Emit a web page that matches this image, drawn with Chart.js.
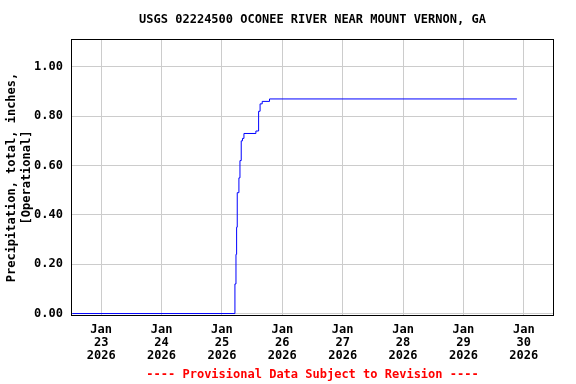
<!DOCTYPE html>
<html>
<head>
<meta charset="utf-8">
<script src="https://cdn.jsdelivr.net/npm/chart.js@4"></script>
<style>
  html, body { margin: 0; padding: 0; background: #ffffff; }
  #wrap { width: 576px; height: 384px; }
</style>
</head>
<body>
<div id="wrap"><canvas id="precipChart" width="576" height="384"></canvas></div>
<script>
const obsTimes = [
    '2026-01-22T12:30', '2026-01-25T05:10', '2026-01-25T05:35', '2026-01-25T05:50',
    '2026-01-25T06:05', '2026-01-25T06:45', '2026-01-25T07:10', '2026-01-25T07:40',
    '2026-01-25T08:10', '2026-01-25T08:45', '2026-01-25T13:30', '2026-01-25T14:35',
    '2026-01-25T15:10', '2026-01-25T16:00', '2026-01-25T18:55', '2026-01-29T21:15'
];
const precipValues = [
    0.00, 0.12, 0.24, 0.35,
    0.49, 0.55, 0.62, 0.70,
    0.71, 0.73, 0.74, 0.82,
    0.85, 0.86, 0.87, 0.87
];

// Axis ticks
const xTickDays = ['2026-01-23', '2026-01-24', '2026-01-25', '2026-01-26',
                   '2026-01-27', '2026-01-28', '2026-01-29', '2026-01-30'];
const monthNames = ['Jan', 'Feb', 'Mar', 'Apr', 'May', 'Jun', 'Jul', 'Aug', 'Sep', 'Oct', 'Nov', 'Dec'];
const yTickValues = [0.0, 0.2, 0.4, 0.6, 0.8, 1.0];
const xRange = ['2026-01-22T12:00', '2026-01-30T12:00'];

const toMs = (s) => new Date(s + (s.length === 10 ? 'T00:00' : '') + 'Z').getTime();

const points = obsTimes.map((t, i) => ({ x: toMs(t), y: precipValues[i] }));

const monoFont = "'DejaVu Sans Mono', 'Liberation Mono', monospace";

// black frame round the plot area
const frameBorder = {
    id: 'frameBorder',
    afterDatasetsDraw(chart) {
        const { ctx, chartArea } = chart;
        ctx.save();
        ctx.strokeStyle = '#000000';
        ctx.lineWidth = 1;
        ctx.strokeRect(Math.round(chartArea.left) + 0.5, Math.round(chartArea.top) + 0.5,
            Math.round(chartArea.right - chartArea.left) - 1, Math.round(chartArea.bottom - chartArea.top) - 1);
        ctx.restore();
    }
};

const ctx = document.getElementById('precipChart').getContext('2d');
new Chart(ctx, {
    type: 'line',
    data: {
        datasets: [{
            label: 'Precipitation',
            data: points,
            borderColor: '#0000ff',
            borderWidth: 1,
            pointRadius: 0,
            stepped: true,
            fill: false
        }]
    },
    options: {
        responsive: false,
        animation: false,
        layout: { padding: { left: 0, right: 22, top: 0, bottom: 0 } },
        plugins: {
            legend: { display: false },
            tooltip: { enabled: false },
            title: {
                display: true,
                fullSize: false,
                text: 'USGS 02224500 OCONEE RIVER NEAR MOUNT VERNON, GA',
                color: '#000000',
                font: { family: monoFont, size: 12, weight: 'bold' },
                padding: { top: 13, bottom: 11.6 }
            },
            subtitle: {
                display: true,
                fullSize: false,
                position: 'bottom',
                text: '---- Provisional Data Subject to Revision ----',
                color: '#ff0000',
                font: { family: monoFont, size: 12, weight: 'bold' },
                padding: { top: 3.6, bottom: 2 }
            }
        },
        scales: {
            x: {
                type: 'linear',
                min: toMs(xRange[0]),
                max: toMs(xRange[1]),
                afterBuildTicks: (scale) => {
                    scale.ticks = xTickDays.map(d => ({ value: toMs(d) }));
                },
                afterFit: (scale) => { scale.height = 48; },
                grid: { color: '#cccccc', drawTicks: false },
                border: { display: false },
                ticks: {
                    color: '#000000',
                    autoSkip: false,
                    maxRotation: 0,
                    padding: 8,
                    font: { family: monoFont, size: 12, weight: 'bold', lineHeight: 1.05 },
                    callback: (v) => {
                        const d = new Date(v);
                        return [monthNames[d.getUTCMonth()], String(d.getUTCDate()), String(d.getUTCFullYear())];
                    }
                }
            },
            y: {
                min: -0.01,
                max: 1.113,
                afterBuildTicks: (scale) => {
                    scale.ticks = yTickValues.map(v => ({ value: v }));
                },
                afterFit: (scale) => { scale.width = 71; },
                grid: { color: '#cccccc', drawTicks: false },
                border: { display: false },
                ticks: {
                    color: '#000000',
                    padding: 8,
                    font: { family: monoFont, size: 12, weight: 'bold' },
                    callback: (v) => v.toFixed(2)
                },
                title: {
                    display: true,
                    text: ['Precipitation, total, inches,', '[Operational]'],
                    color: '#000000',
                    font: { family: monoFont, size: 12, weight: 'bold', lineHeight: 1.2 },
                    padding: { top: 5, bottom: 0 }
                }
            }
        }
    },
    plugins: [frameBorder]
});
</script>
</body>
</html>
